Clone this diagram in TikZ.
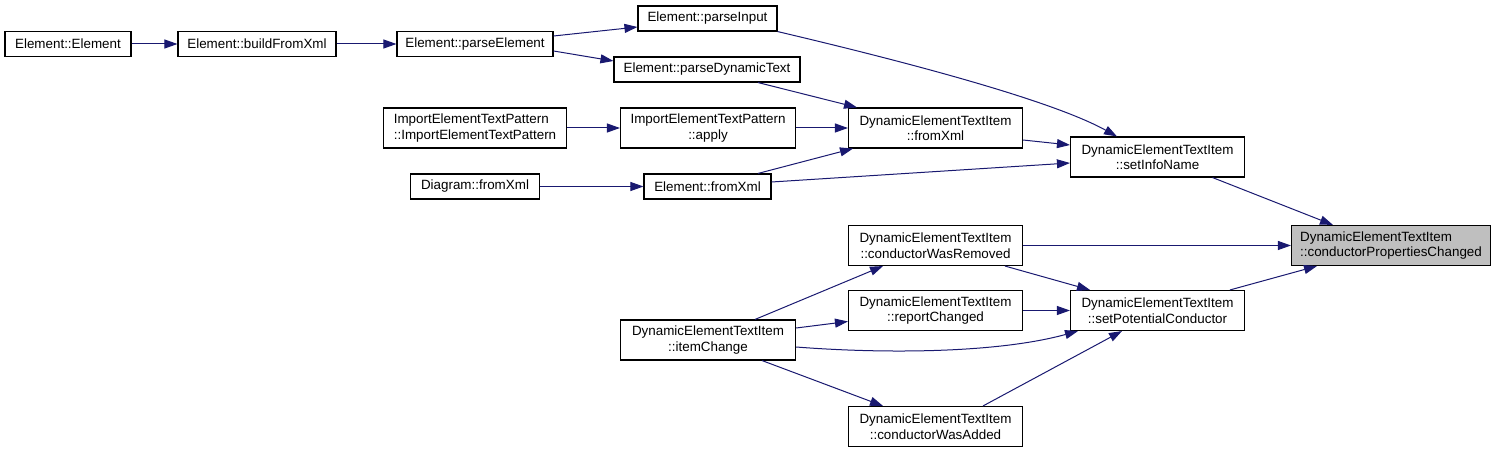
\documentclass[tikz,border=0pt]{standalone}
\usepackage{fontspec}
\setmainfont{Liberation Sans}
\usetikzlibrary{arrows.meta}
\definecolor{edgeblue}{HTML}{191970}
\definecolor{hlgray}{HTML}{BFBFBF}
\begin{document}
\begin{tikzpicture}[x=1pt,y=-1pt,
  fn/.style={draw=black,line width=1.1pt,fill=white,inner sep=0pt,
    font=\fontsize{13.4}{15.5}\selectfont,align=center},
  one/.style={fn,minimum height=25pt},
  two/.style={fn,minimum height=40pt},
  call/.style={draw=edgeblue,line width=1pt,
    -{Triangle[length=13pt,width=9pt,fill=edgeblue]}}]
\useasboundingbox (0,0) rectangle (1496,454);
% nodes
\node[one,minimum width=126pt] (ee)  at (68,44)    {Element::Element};
\node[one,minimum width=158pt] (bfx) at (257,44)   {Element::buildFromXml};
\node[one,minimum width=156pt] (pe)  at (475,44)   {Element::parseElement};
\node[one,minimum width=139pt] (pi)  at (707.5,18.5) {Element::parseInput};
\node[one,minimum width=186pt] (pdt) at (707,69.5) {Element::parseDynamicText};
\node[two,minimum width=183pt,align=left] (ietp) at (475,128) {ImportElementTextPattern\\::ImportElementTextPattern};
\node[two,minimum width=175pt] (apply) at (708,128) {ImportElementTextPattern\\::apply};
\node[two,minimum width=174pt] (dfx) at (935.5,128) {DynamicElementTextItem\\::fromXml};
\node[one,minimum width=129pt] (dgx) at (475,186.5) {Diagram::fromXml};
\node[one,minimum width=127pt] (efx) at (707.5,186.5) {Element::fromXml};
\node[two,minimum width=174pt] (sin) at (1157.5,157) {DynamicElementTextItem\\::setInfoName};
\node[two,minimum width=199pt,fill=hlgray,align=left] (cpc) at (1391,245.5) {DynamicElementTextItem\\::conductorPropertiesChanged};
\node[two,minimum width=174pt] (cwr) at (935.5,245.5) {DynamicElementTextItem\\::conductorWasRemoved};
\node[two,minimum width=174pt] (rc)  at (935.5,310.5) {DynamicElementTextItem\\::reportChanged};
\node[two,minimum width=174pt] (spc) at (1157.5,310.5) {DynamicElementTextItem\\::setPotentialConductor};
\node[two,minimum width=175pt] (ic)  at (708,340) {DynamicElementTextItem\\::itemChange};
\node[two,minimum width=174pt] (cwa) at (935.5,426.5) {DynamicElementTextItem\\::conductorWasAdded};
% edges
\draw[call] (ee.east) -- (bfx.west);
\draw[call] (bfx.east) -- (pe.west);
\draw[call] ([yshift=8pt]pe.east) -- ([yshift=-8.5pt]pi.west);
\draw[call] ([yshift=-7pt]pe.east) -- ([yshift=8.5pt]pdt.west);
\draw[call] (pi.south east) .. controls +(123,29) and +(-67,-37) .. ([xshift=-40.5pt]sin.north);
\draw[call] ([xshift=51pt]pdt.south) -- ([xshift=-78.5pt]dfx.north);
\draw[call] (ietp.east) -- (apply.west);
\draw[call] (apply.east) -- (dfx.west);
\draw[call] ([xshift=50.5pt]efx.north) -- ([xshift=-82.5pt]dfx.south);
\draw[call] (dgx.east) -- (efx.west);
\draw[call] ([yshift=-12pt]dfx.east) -- ([yshift=12pt]sin.west);
\draw[call] ([yshift=4.5pt]efx.east) -- ([yshift=-6pt]sin.west);
\draw[call] ([xshift=55pt]sin.south) -- ([xshift=-58pt]cpc.north);
\draw[call] (cwr.east) -- (cpc.west);
\draw[call] ([xshift=72.5pt]spc.north) -- ([xshift=-74pt]cpc.south);
\draw[call] ([xshift=69.5pt]cwr.south) -- ([xshift=-67.5pt]spc.north);
\draw[call] (rc.east) -- (spc.west);
\draw[call] ([xshift=47pt]ic.north) -- ([xshift=-52.5pt]cwr.south);
\draw[call] ([yshift=12pt]ic.east) -- ([yshift=-11pt]rc.west);
\draw[call] ([yshift=-7pt]ic.east) .. controls +(90,7) and +(-80,22) .. ([xshift=-79.5pt]spc.south);
\draw[call] ([xshift=54pt]ic.south) -- ([xshift=-52.5pt]cwa.north);
\draw[call] ([xshift=47.5pt]cwa.north) -- ([xshift=-35.5pt]spc.south);
\end{tikzpicture}
\end{document}
